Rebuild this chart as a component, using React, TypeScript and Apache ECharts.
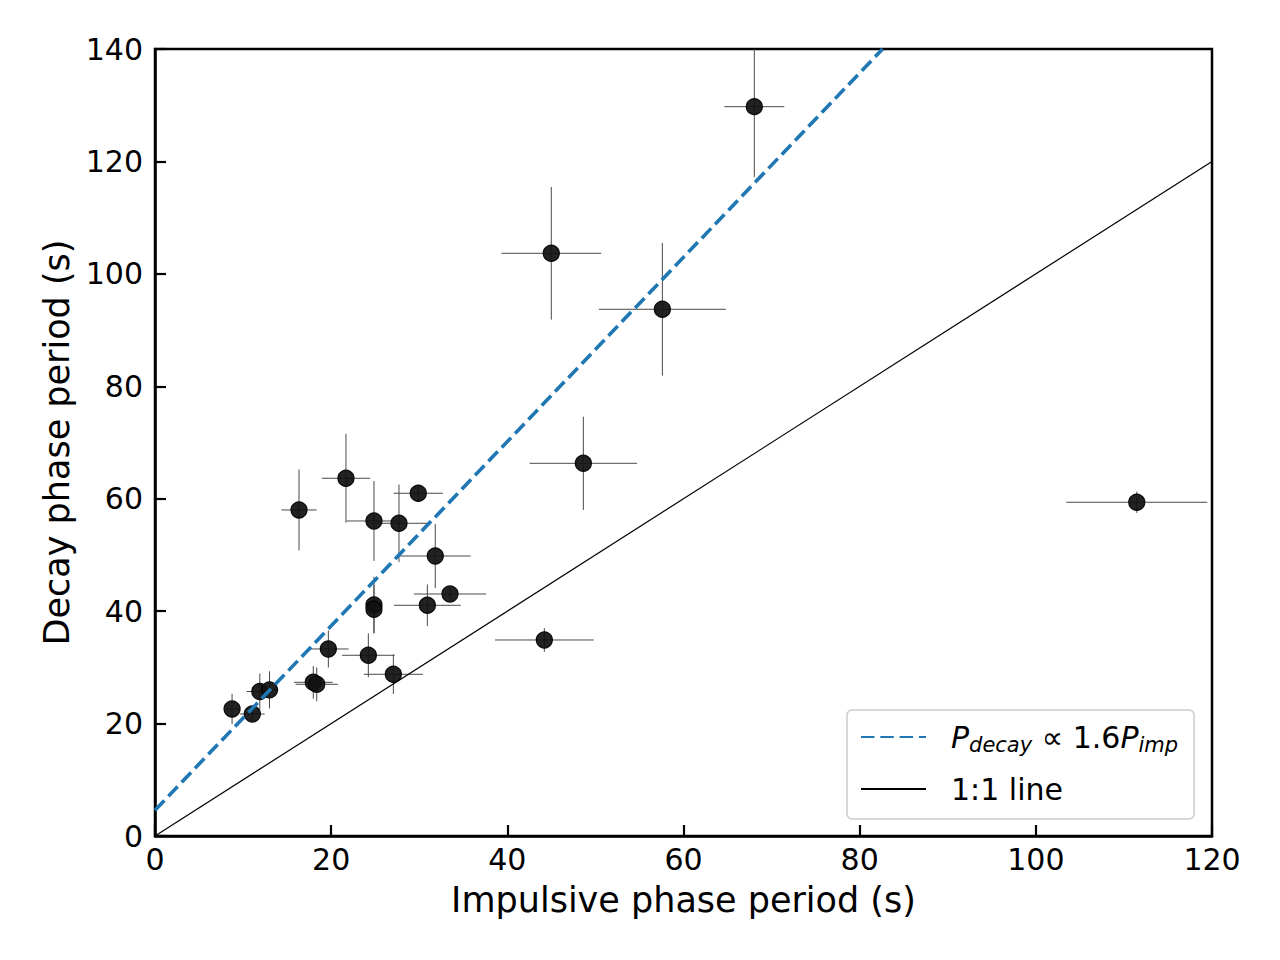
import React, { useEffect, useRef } from "react";
import * as echarts from "echarts";

// Impulsive phase period (s)
const impulsive = [8.75, 11.05, 11.9, 13.0, 17.97, 18.36, 19.68, 16.35, 21.68, 24.22, 24.86, 24.86, 24.86, 27.06, 27.7, 29.89, 30.92, 31.82, 33.49, 44.2, 44.99, 48.63, 57.6, 68.04, 111.46];
// Decay phase period (s)
const decay = [22.6, 21.7, 25.7, 26.0, 27.34, 26.99, 33.27, 58.0, 63.64, 32.15, 41.1, 40.33, 56.04, 28.77, 55.63, 60.97, 41.04, 49.81, 43.05, 34.87, 103.66, 66.3, 93.7, 129.74, 59.37];
// errors
const impulsiveErr = [0.8, 1.4, 1.5, 1.0, 2.2, 2.4, 2.3, 2.0, 2.75, 3.0, 0.8, 0.8, 3.1, 3.35, 3.3, 2.8, 3.8, 4.0, 4.1, 5.6, 5.66, 6.1, 7.2, 3.4, 8.0];
const decayErr = [2.7, 1.2, 3.2, 3.3, 2.9, 3.0, 3.3, 7.2, 7.9, 3.9, 5.0, 4.3, 7.1, 3.5, 6.9, 1.5, 3.7, 5.7, 1.0, 2.1, 11.8, 8.3, 11.8, 12.5, 1.9];

const fitLine = [[0, 4.6], [82.6, 140]];
const oneToOne = [[0, 0], [120, 120]];

const xTicks = { min: 0, max: 120, interval: 20 };
const yTicks = { min: 0, max: 140, interval: 20 };

const FONT = "DejaVu Sans";

export default function App() {
  const ref = useRef<HTMLDivElement>(null);
  useEffect(() => {
    if (!ref.current) return;
    const chart = echarts.init(ref.current, null, { renderer: "svg" });
    const points = impulsive.map((x, i) => [x, decay[i], impulsiveErr[i], decayErr[i]]);
    const fitName = "fit";
    const oneName = "1:1 line";
    chart.setOption({
      animation: false,
      backgroundColor: "#ffffff",
      grid: {
        left: 155,
        top: 49,
        width: 1057,
        height: 787,
        show: true,
        borderColor: "#000",
        borderWidth: 2.5,
        backgroundColor: "transparent",
      },
      xAxis: {
        type: "value",
        min: xTicks.min,
        max: xTicks.max,
        interval: xTicks.interval,
        name: "Impulsive phase period (s)",
        nameLocation: "middle",
        nameGap: 46,
        nameTextStyle: { fontFamily: FONT, fontSize: 35, color: "#000" },
        axisLine: { show: true, lineStyle: { color: "#000", width: 2.5 } },
        axisTick: { show: true, inside: true, length: 11, lineStyle: { color: "#000", width: 2.2 } },
        axisLabel: { fontFamily: FONT, fontSize: 30, color: "#000", margin: 8 },
        splitLine: { show: false },
      },
      yAxis: {
        type: "value",
        min: yTicks.min,
        max: yTicks.max,
        interval: yTicks.interval,
        name: "Decay phase period (s)",
        nameLocation: "middle",
        nameGap: 80,
        nameTextStyle: { fontFamily: FONT, fontSize: 35, color: "#000" },
        axisLine: { show: true, lineStyle: { color: "#000", width: 2.5 } },
        axisTick: { show: true, inside: true, length: 11, lineStyle: { color: "#000", width: 2.2 } },
        axisLabel: { fontFamily: FONT, fontSize: 30, color: "#000", margin: 12 },
        splitLine: { show: false },
      },
      legend: {
        show: true,
        data: [fitName, oneName],
        orient: "vertical",
        left: 847,
        top: 710,
        itemWidth: 65,
        itemHeight: 14,
        itemGap: 12,
        padding: [7, 16, 10, 13],
        backgroundColor: "rgba(255,255,255,0.8)",
        borderColor: "#cccccc",
        borderWidth: 1.5,
        borderRadius: 5,
        itemStyle: { opacity: 0 },
        formatter: (name: string) =>
          name === fitName
            ? "{i|P}{s|decay}{n| ∝ 1.6}{i|P}{s|imp}"
            : "{n|" + name + "}",
        textStyle: {
          fontFamily: FONT,
          fontSize: 30,
          color: "#000",
          padding: [0, 0, 0, 20],
          lineHeight: 40,
          rich: {
            n: { fontFamily: FONT, fontSize: 30, color: "#000", lineHeight: 40 },
            i: { fontFamily: FONT, fontSize: 30, fontStyle: "italic", color: "#000", lineHeight: 40 },
            s: {
              fontFamily: FONT,
              fontSize: 21,
              fontStyle: "italic",
              color: "#000",
              lineHeight: 40,
              verticalAlign: "top",
              padding: [17, 0, 0, 0],
            },
          },
        },
      },
      series: [
        {
          type: "custom",
          name: "errors",
          clip: true,
          z: 2,
          data: points,
          renderItem: (params: any, api: any) => {
            const x = api.value(0);
            const y = api.value(1);
            const xe = api.value(2);
            const ye = api.value(3);
            const l = api.coord([x - xe, y]);
            const r = api.coord([x + xe, y]);
            const t = api.coord([x, y + ye]);
            const b = api.coord([x, y - ye]);
            const style = { stroke: "#4a4a4a", lineWidth: 1 };
            return {
              type: "group",
              children: [
                { type: "line", shape: { x1: l[0], y1: l[1], x2: r[0], y2: r[1] }, style },
                { type: "line", shape: { x1: t[0], y1: t[1], x2: b[0], y2: b[1] }, style },
              ],
            };
          },
        },
        {
          type: "scatter",
          name: "points",
          z: 3,
          data: points.map((p) => [p[0], p[1]]),
          symbol: "circle",
          symbolSize: 16,
          itemStyle: { color: "#111111", opacity: 0.93, borderColor: "#000", borderWidth: 1.2 },
        },
        {
          type: "line",
          name: oneName,
          z: 4,
          data: oneToOne,
          symbol: "none",
          showSymbol: false,
          clip: true,
          lineStyle: { color: "#000", width: 1.2 },
          itemStyle: { color: "#000" },
        },
        {
          type: "line",
          name: fitName,
          z: 5,
          data: fitLine,
          symbol: "none",
          showSymbol: false,
          clip: true,
          lineStyle: { color: "#1f77b4", width: 3.6, type: [13.5, 5.8] },
          itemStyle: { color: "#1f77b4" },
        },
      ],
    });
    return () => chart.dispose();
  }, []);
  return (
    <div
      ref={ref}
      style={{ position: "absolute", left: 0, top: 0, width: 1280, height: 960 }}
    />
  );
}
